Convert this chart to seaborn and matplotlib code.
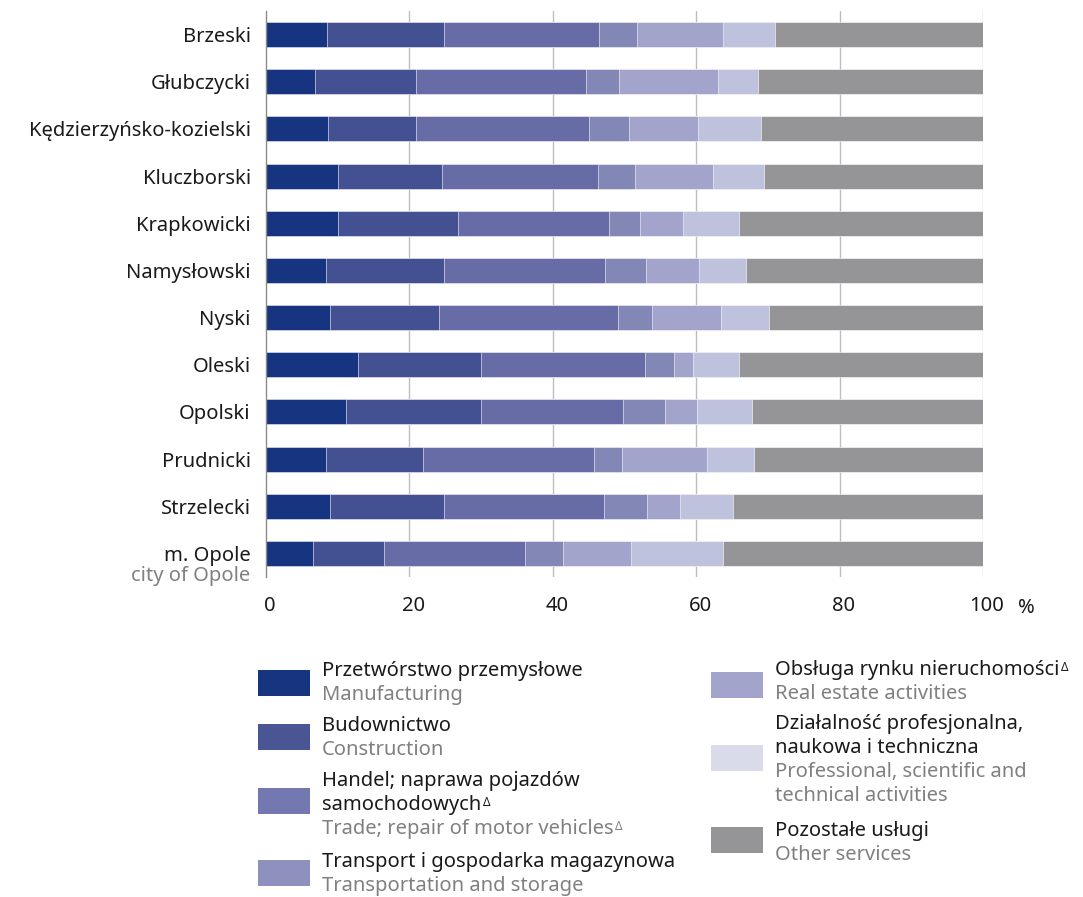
import numpy as np
import pandas as pd
import matplotlib
matplotlib.use("Agg")
import matplotlib.pyplot as plt
import seaborn as sns
from matplotlib.patches import Rectangle
from matplotlib.transforms import blended_transform_factory, ScaledTranslation

regions = ["Brzeski", "Głubczycki", "Kędzierzyńsko-kozielski", "Kluczborski",
           "Krapkowicki", "Namysłowski", "Nyski", "Oleski", "Opolski",
           "Prudnicki", "Strzelecki", "m. Opole"]

manufacturing = [8.5, 6.8, 8.7, 10.0, 10.1, 8.3, 8.9, 12.9, 11.2, 8.3, 8.9, 6.6]
construction  = [16.3, 14.1, 12.2, 14.6, 16.7, 16.5, 15.2, 17.1, 18.8, 13.6, 15.9, 9.8]
trade         = [21.7, 23.7, 24.2, 21.7, 21.1, 22.5, 25.0, 22.9, 19.8, 23.8, 22.3, 19.7]
transport     = [5.2, 4.7, 5.5, 5.2, 4.2, 5.7, 4.7, 4.0, 5.8, 3.9, 6.0, 5.3]
real_estate   = [12.0, 13.8, 9.6, 10.8, 6.1, 7.4, 9.6, 2.6, 4.5, 11.9, 4.6, 9.5]
professional  = [7.3, 5.5, 8.8, 7.2, 7.8, 6.6, 6.8, 6.5, 7.7, 6.6, 7.4, 12.8]
other         = [29.0, 31.4, 31.0, 30.5, 34.0, 33.0, 29.8, 34.0, 32.2, 31.9, 34.9, 36.3]

series_pl = ["Przetwórstwo przemysłowe", "Budownictwo",
             "Handel; naprawa pojazdów\nsamochodowych",
             "Transport i gospodarka magazynowa",
             "Obsługa rynku nieruchomości",
             "Działalność profesjonalna,\nnaukowa i techniczna",
             "Pozostałe usługi"]
series_en = ["Manufacturing", "Construction", "Trade; repair of motor vehicles",
             "Transportation and storage", "Real estate activities",
             "Professional, scientific and\ntechnical activities", "Other services"]
series_delta_pl = [False, False, True, False, True, False, False]
series_delta_en = [False, False, True, False, False, False, False]

x_ticks = [0, 20, 40, 60, 80, 100]

colors = ["#16347f", "#435193", "#676ca6", "#8287b5", "#a2a4cb", "#bfc2dd", "#959597"]
legend_colors = ["#16347f", "#4a5594", "#7378b0", "#8e91bd", "#a2a4cb", "#dadbea", "#959597"]

sns.set_style("white")
plt.rcParams['font.family'] = ['Noto Sans', 'DejaVu Sans']

data = [manufacturing, construction, trade, transport, real_estate, professional, other]
cum = np.cumsum(np.array(data), axis=0)

fig = plt.figure(figsize=(10.83, 8.97), dpi=100)
ax = fig.add_axes([266/1083, 1 - 577/897, (983-266)/1083, (577-11)/897])

for i in range(len(data) - 1, -1, -1):
    df = pd.DataFrame({"region": regions, "value": cum[i]})
    sns.barplot(data=df, y="region", x="value", orient="h", color=colors[i],
                width=0.53, ax=ax, edgecolor="white", linewidth=0.4,
                saturation=1, zorder=3)

FS = 14.5
ax.set_xlim(0, 100)
ax.set_ylim(len(regions) - 0.5, -0.5)
ax.set_xticks(x_ticks)
ax.set_xticklabels([str(t) for t in x_ticks])
ax.set_xlabel("")
ax.set_ylabel("")
for x in x_ticks[1:]:
    ax.axvline(x, color="#bdbdbd", lw=1.0, zorder=1)
for s in ["top", "right", "bottom"]:
    ax.spines[s].set_visible(False)
ax.spines["left"].set_color("#8a8a8a")
ax.spines["left"].set_linewidth(1.0)
ax.spines["left"].set_zorder(5)
ax.tick_params(axis="both", length=0, labelsize=FS, colors="#1a1a1a")
ax.tick_params(axis="x", pad=14)
ax.tick_params(axis="y", pad=11)
offset = ScaledTranslation(4/100, 0, fig.dpi_scale_trans)
for lab in ax.get_xticklabels():
    lab.set_transform(lab.get_transform() + offset)

trans = blended_transform_factory(ax.transAxes, ax.transData)
ax.text(-16/717, len(regions) - 1 + 0.48, "city of Opole", transform=trans,
        ha="right", va="center", fontsize=FS, color="#808080")

fig.text(1026/1083, 1 - 608/897, "%", ha="center", va="center", fontsize=FS, color="#1a1a1a")

# legend
W, H = 1083, 897
def fx(px): return px / W
def fy(py): return 1 - py / H

lh = 24
legend_items = [
    (258, [683, 737, 801, 873], 322, [671, 726, 781, 862]),
    (711, [685, 758, 840], 775, [670, 724, 831]),
]
idx = 0
for col_x, sw_y, tx, ty in legend_items:
    for k in range(len(sw_y)):
        i = idx
        fig.add_artist(Rectangle((fx(col_x), fy(sw_y[k] + 13)), 52 / W, 26 / H,
                                 transform=fig.transFigure, facecolor=legend_colors[i],
                                 edgecolor="none"))
        pl_lines = series_pl[i].split("\n")
        en_lines = series_en[i].split("\n")
        y = ty[k]
        last = None
        for ln in pl_lines:
            last = fig.text(fx(tx), fy(y), ln, ha="left", va="center", fontsize=FS, color="#1a1a1a")
            y += lh
        if series_delta_pl[i]:
            plt.annotate("Δ", xy=(1, 1), xycoords=last, xytext=(1, -1), textcoords="offset points",
                         ha="left", va="top", fontsize=8.5, color="#1a1a1a",
                         annotation_clip=False)
        for ln in en_lines:
            last = fig.text(fx(tx), fy(y), ln, ha="left", va="center", fontsize=FS, color="#808080")
            y += lh
        if series_delta_en[i]:
            plt.annotate("Δ", xy=(1, 1), xycoords=last, xytext=(1, -1), textcoords="offset points",
                         ha="left", va="top", fontsize=8.5, color="#808080",
                         annotation_clip=False)
        idx += 1

fig.savefig("out.png", dpi=100)
